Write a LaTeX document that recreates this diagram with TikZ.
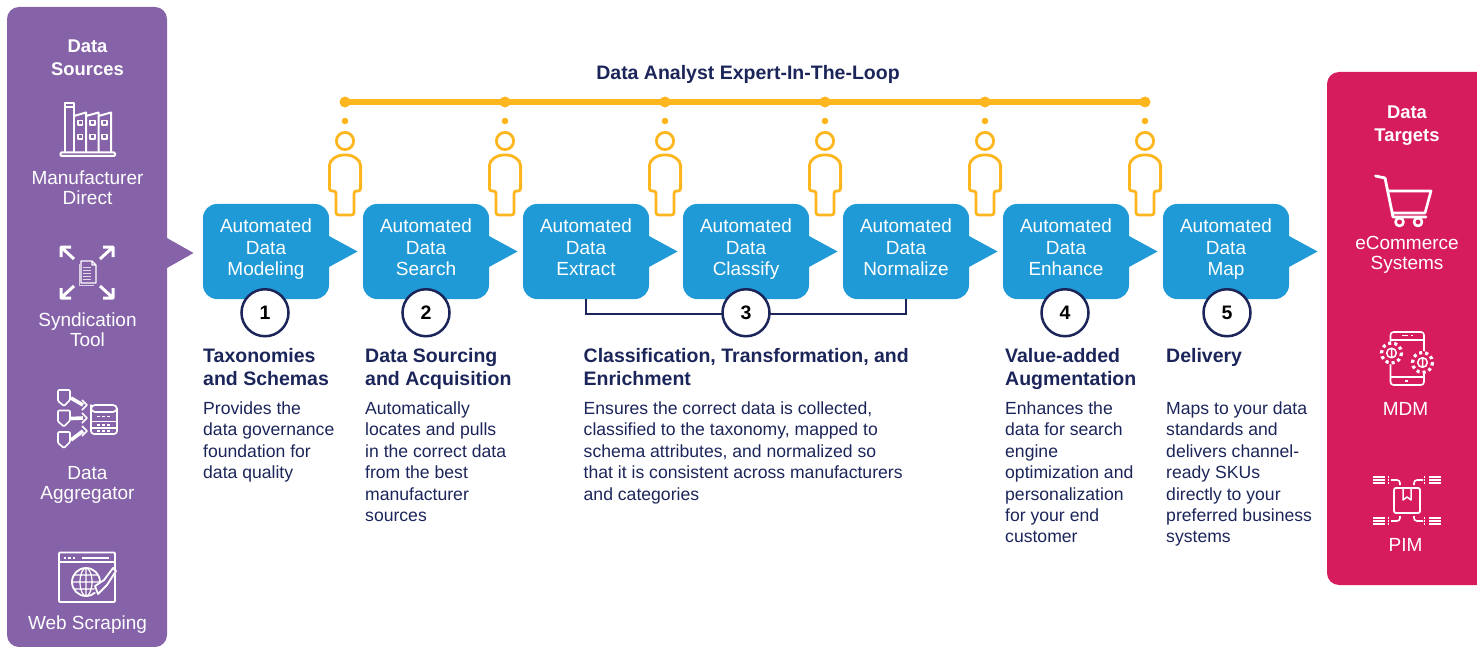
\documentclass[tikz,border=0pt]{standalone}
\usepackage{fontspec}
\setmainfont{Liberation Sans}
\usetikzlibrary{positioning,calc}

\definecolor{srcpurple}{HTML}{8663A9}
\definecolor{tgtpink}{HTML}{D61C5D}
\definecolor{stepblue}{HTML}{1F9AD6}
\definecolor{loopyellow}{HTML}{FDB61E}
\definecolor{navy}{HTML}{1B2559}

\tikzset{
    pics/analyst/.style={code={
        \fill[loopyellow] (0,121) circle (3.3);
        \draw[loopyellow, line width=2.8] (0,141) circle (8.6);
        \draw[loopyellow, line width=2.8, rounded corners=2.5] (-15.6,168) .. controls (-15.6,160) and (-8,155) .. (0,155) .. controls (8,155) and (15.6,160) .. (15.6,168) -- (15.6,191) -- (9,191) -- (9,215) -- (-9,215) -- (-9,191) -- (-15.6,191) -- cycle;
    }}
}

\begin{document}
\begin{tikzpicture}[
        x=1pt, y=-1pt,
        node distance=34pt,
        panel/.style={anchor=north west, minimum width=160, rounded corners=12, inner sep=0, outer sep=0},
        stepbox/.style={fill=stepblue, text=white, rounded corners=14, minimum width=126, minimum height=95, inner sep=0, outer sep=0, align=center, font=\fontsize{19}{21.4}\selectfont, execute at end node={\rule[-8pt]{0pt}{8pt}}},
        numdot/.style={draw=navy, line width=2.5, fill=white, circle, minimum size=47, inner sep=0, font=\fontsize{19.5}{21}\selectfont\bfseries},
        loopdot/.style={fill=loopyellow, circle, minimum size=11, inner sep=0},
        heading/.style={anchor=north west, inner sep=0, align=left, text=navy, font=\fontsize{19.5}{23}\selectfont\bfseries},
        bodytext/.style={anchor=north west, inner sep=0, align=left, text=navy, font=\fontsize{17.6}{21.4}\selectfont},
        paneltitle/.style={text=white, inner sep=0, align=center, font=\fontsize{18.4}{23}\selectfont\bfseries},
        panellabel/.style={text=white, inner sep=0, align=center, font=\fontsize{19}{20}\selectfont},
        icon/.style={draw=white, line width=2, line join=round}
    ]
    \clip (0,0) rectangle (1477,647);

    % Side panels
    \node[panel, fill=srcpurple, minimum height=640] (sources) at (7,7) {};
    \fill[srcpurple] (166,238) -- (167,238) -- (193.5,253) -- (167,268) -- (166,268) -- cycle;
    \node[panel, fill=tgtpink, minimum width=170, minimum height=513] (targets) at (1327,72) {};

    \node[paneltitle] (srctitle) at (87.5,58) {Data\\Sources};
    \node[panellabel] (manufacturer) at (87.5,187.5) {Manufacturer\\Direct};
    \node[panellabel] (syndication) at (87.5,329.5) {Syndication\\Tool};
    \node[panellabel] (aggregator) at (87.5,484.5) {Data\\Aggregator};
    \node[panellabel] (scraping) at (87.5,624.5) {Web Scraping};
    \node[paneltitle] (tgttitle) at (1407,126) {Data\\Targets};
    \node[panellabel] (ecommerce) at (1407,255) {eCommerce\\Systems};
    \node[panellabel] (mdm) at (1405.5,408.5) {MDM};
    \node[panellabel] (pim) at (1405.5,544.5) {PIM};

    % Expert loop
    \node[text=navy, inner sep=0, font=\fontsize{19.5}{22}\selectfont\bfseries] (looptitle) at (748,74) {Data Analyst Expert-In-The-Loop};
    \foreach \i/\x in {1/345,2/505,3/665,4/825,5/985,6/1145} {
        \node[loopdot] (dot\i) at (\x,102) {};
        \pic at (\x,0) {analyst};
    }
    \draw[loopyellow, line width=6] (dot1.center) -- (dot6.center);

    % Steps
    \node[stepbox] (model) at (266,251.5) {Automated\\Data\\Modeling};
    \node[stepbox, right=of model] (search) {Automated\\Data\\Search};
    \node[stepbox, right=of search] (extract) {Automated\\Data\\Extract};
    \node[stepbox, right=of extract] (classify) {Automated\\Data\\Classify};
    \node[stepbox, right=of classify] (normalize) {Automated\\Data\\Normalize};
    \node[stepbox, right=of normalize] (enhance) {Automated\\Data\\Enhance};
    \node[stepbox, right=of enhance] (map) {Automated\\Data\\Map};
    \foreach \n in {model,search,extract,classify,normalize,enhance,map}
        \fill[stepblue] ([xshift=-1,yshift=15.5]\n.east) -- ([yshift=15.5]\n.east) -- ([xshift=28.5]\n.east) -- ([yshift=-15.5]\n.east) -- ([xshift=-1,yshift=-15.5]\n.east) -- cycle;

    % Numbers
    \draw[navy, line width=2.5] (extract.south) |- (746,314) -| (normalize.south);
    \node[numdot, below=-11pt of model, xshift=-1] (num1) {1};
    \node[numdot, below=-11pt of search] (num2) {2};
    \node[numdot, below=-11pt of classify] (num3) {3};
    \node[numdot, below=-11pt of enhance, xshift=-1] (num4) {4};
    \node[numdot, below=-11pt of map, xshift=1] (num5) {5};

    % Descriptions
    \node[heading] (head1) at (203,348) {Taxonomies\\and Schemas};
    \node[heading] (head2) at (365,348) {Data Sourcing\\and Acquisition};
    \node[heading] (head3) at (583.5,348) {Classification, Transformation, and\\Enrichment};
    \node[heading] (head4) at (1005,348) {Value-added\\Augmentation};
    \node[heading] (head5) at (1166,348) {Delivery};
    \node[bodytext] (text1) at (203,401.5) {Provides the\\data governance\\foundation for\\data quality};
    \node[bodytext] (text2) at (365,401.5) {Automatically\\locates and pulls\\in the correct data\\from the best\\manufacturer\\sources};
    \node[bodytext] (text3) at (583.5,401.5) {Ensures the correct data is collected,\\classified to the taxonomy, mapped to\\schema attributes, and normalized so\\that it is consistent across manufacturers\\and categories};
    \node[bodytext] (text4) at (1005,401.5) {Enhances the\\data for search\\engine\\optimization and\\personalization\\for your end\\customer};
    \node[bodytext] (text5) at (1166,401.5) {Maps to your data\\standards and\\delivers channel-\\ready SKUs\\directly to your\\preferred business\\systems};

    % Icons: factory
    \draw[icon] (64.5,152) -- (64.5,103) -- (73.5,103) -- (73.5,152);
    \draw[icon] (64.5,107.5) -- (73.5,107.5);
    \draw[icon] (74,116) -- (86,112.5) -- (86,152) (86,116) -- (98.5,112.5) -- (98.5,152) (98.5,116) -- (111,112.5) -- (111,152);
    \draw[icon, rounded corners=1] (60.5,152.5) rectangle (115,156);
    \foreach \x in {80,92.5,104.5} \foreach \y in {123,137} \draw[icon, line width=1.8] (\x-2.4,\y-2.4) rectangle (\x+2.4,\y+2.4);

    % Icons: syndication
    \draw[icon, line width=3] (74,259) -- (62,248) (61,257) -- (61,247) -- (71,247);
    \draw[icon, line width=3] (100,259) -- (112,248) (113,257) -- (113,247) -- (103,247);
    \draw[icon, line width=3] (74,286) -- (62,297) (61,288) -- (61,298) -- (71,298);
    \draw[icon, line width=3] (100,286) -- (112,297) (113,288) -- (113,298) -- (103,298);
    \draw[icon, line width=1, white!70!srcpurple] (79,264) -- (79,285) -- (94,285);
    \draw[icon, line width=1.1] (81,283) -- (81,261) -- (92,261) -- (96,265) -- (96,283) -- cycle (92,261) -- (92,265) -- (96,265);
    \foreach \y in {267,270,273,276,279} \draw[white!75!srcpurple, line width=.8] (83,\y) -- (94-\y/100,\y);

    % Icons: aggregator
    \foreach \y/\ya in {390/405,410.5/418,432/431} {
        \draw[icon, line width=1.7, rounded corners=1] (58,\y) -- (70,\y) -- (70,\y+10) -- (64,\y+16) -- (58,\y+11) -- cycle;
        \draw[icon, line width=3.6] (71,\y+8) -- (83,\ya);
        \draw[icon, line width=1.7] (82,\ya-5) -- (87,\ya) -- (82,\ya+5);
    }
    \draw[icon, line width=1.7, rounded corners=3] (91,408) -- (91,434) -- (117,434) -- (117,408);
    \draw[icon, line width=1.7, rounded corners=4] (91,409) -- (91,405) -- (117,405) -- (117,412) -- (91,412) -- cycle;
    \draw[icon, line width=1.7] (91,421.5) -- (117,421.5) (91,428) -- (117,428);
    \foreach \y in {416.5,425,431} \draw[white, line width=1.4, dash pattern=on 3 off 2] (97,\y) -- (112,\y);

    % Icons: web scraping
    \draw[icon, line width=1.8, rounded corners=1] (59,552.5) rectangle (115,602);
    \draw[icon, line width=1.8] (59,562) -- (115,562);
    \draw[white, line width=2.2, dash pattern=on 2.2 off 2.2] (64,558) -- (76,558);
    \draw[white, line width=2.2] (82,558) -- (109,558);
    \draw[icon, line width=1.8] (86,582) circle (14);
    \draw[icon, line width=1.2] (86,582) ellipse (6 and 14) (72,582) -- (100,582) (74,575) -- (98,575) (74,589) -- (98,589) (86,568) -- (86,596);
    \fill[srcpurple] (93,591) -- (113,569) -- (117,571) -- (101,596) -- cycle;
    \draw[icon, line width=1.8] (98,594) -- (95,586) -- (104,580) -- (113,568) -- (116,571) -- (107,585) -- cycle;

    % Icons: cart
    \draw[icon, line width=2.8, line cap=round] (1375.5,176) -- (1385,178) -- (1393,217) -- (1426,217);
    \draw[icon, line width=2.6] (1388,191) -- (1431,191) -- (1425,213) -- (1393,213);
    \draw[icon, line width=2.6] (1399.5,222) circle (4);
    \draw[icon, line width=2.6] (1418,222) circle (4);

    % Icons: mdm
    \draw[icon, line width=1.6, rounded corners=3] (1390.5,332) rectangle (1424,385);
    \draw[icon, line width=1.6] (1390.5,340) -- (1424,340) (1390.5,377) -- (1424,377);
    \draw[white, line width=1.6] (1402,335.5) -- (1408,335.5) (1411,335.5) -- (1413,335.5) (1405,381) -- (1408,381);
    \foreach \x/\y in {1391.5/353,1422.5/362.5} {
        \fill[tgtpink] (\x,\y) circle (11.5);
        \draw[white, line width=3.2, dash pattern=on 3.1 off 3.1] (\x,\y) circle (10);
        \fill[tgtpink] (\x,\y) circle (7.5);
        \draw[icon, line width=1.5] (\x,\y) circle (4.8) (\x,\y-4) -- (\x,\y+4);
    }

    % Icons: pim
    \draw[icon, line width=1.8, rounded corners=2] (1394,488) rectangle (1420,513);
    \draw[icon, line width=1.5] (1403,488) -- (1403,500) -- (1407,497) -- (1411,500) -- (1411,488);
    \foreach \y in {477,480,483,518,521,524} {
        \draw[white, line width=1.6] (1373,\y) -- (1385,\y);
        \draw[white, line width=1.6] (1429,\y) -- (1441,\y);
        \draw[white, line width=1.2] (1387.5,\y) -- (1388.5,\y) (1424,\y) -- (1425,\y);
    }
    \draw[icon, line width=1.6, rounded corners=3] (1391,480) -- (1400,480) -- (1400,485);
    \draw[icon, line width=1.6, rounded corners=3] (1423,480) -- (1414,480) -- (1414,485);
    \draw[icon, line width=1.6, rounded corners=3] (1391,521) -- (1400,521) -- (1400,516);
    \draw[icon, line width=1.6, rounded corners=3] (1423,521) -- (1414,521) -- (1414,516);

\end{tikzpicture}
\end{document}
